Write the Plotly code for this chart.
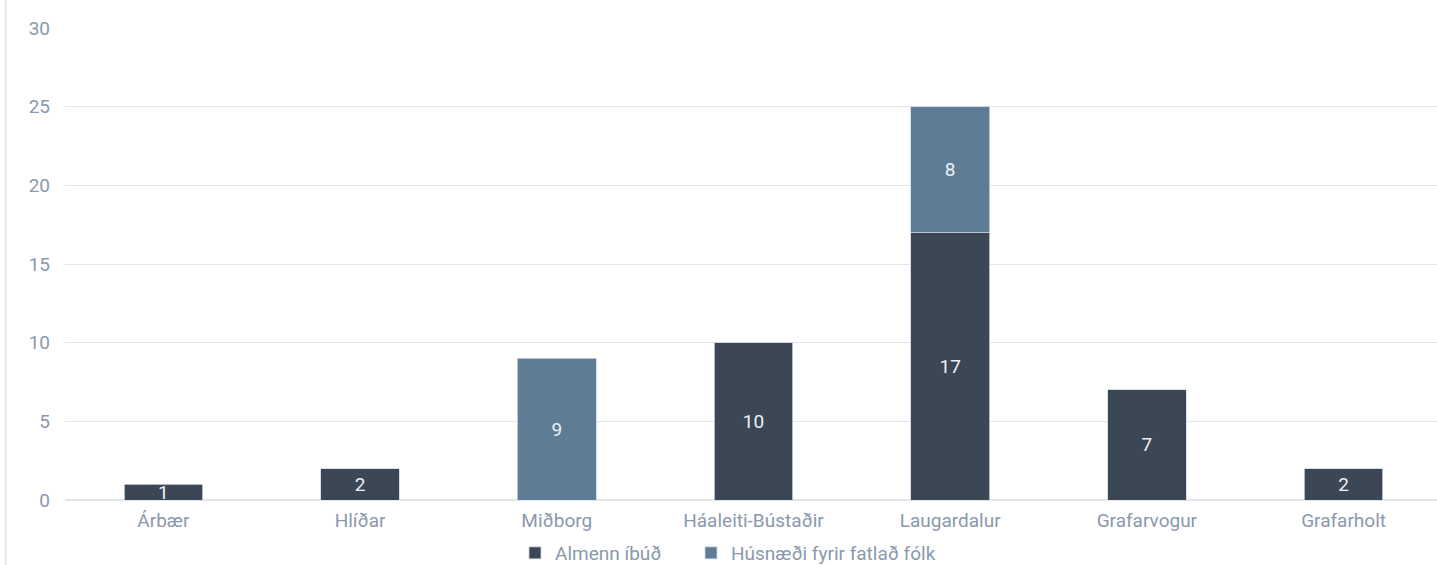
import plotly.graph_objects as go

categories = ["Árbær", "Hlíðar", "Miðborg", "Háaleiti-Bústaðir", "Laugardalur", "Grafarvogur", "Grafarholt"]
almenn = [1, 2, None, 10, 17, 7, 2]
fatlad = [None, None, 9, None, 8, None, None]
series_names = ["Almenn íbúð", "Húsnæði fyrir fatlað fólk"]
y_ticks = [0, 5, 10, 15, 20, 25, 30]

DARK = "#3c4756"
LIGHT = "#5f7c97"
TICK = "#8a99ad"
GRID = "#e2e6eb"
FONT = "Roboto"

fig = go.Figure()
for name, vals, col, lg in [(series_names[0], almenn, DARK, "legend"),
                            (series_names[1], fatlad, LIGHT, "legend2")]:
    fig.add_trace(go.Bar(
        x=categories, y=vals, name=name, legend=lg,
        marker=dict(color=col, line=dict(color="#cfd6dd", width=0.8)),
        text=[("" if v is None else str(v)) for v in vals],
        textposition="inside", insidetextanchor="middle", constraintext="none",
        textangle=0,
        textfont=dict(color="#eef1f4", size=19, family=FONT),
        cliponaxis=False, width=0.4,
    ))

PLOT_L, PLOT_W = 65, 1372
legend_common = dict(orientation="h", xanchor="left", xref="paper",
                     y=-0.1123, yanchor="middle", yref="paper",
                     bgcolor="rgba(0,0,0,0)",
                     font=dict(size=19, color=TICK, family=FONT), itemwidth=30)

fig.update_layout(
    barmode="stack",
    width=1437, height=565,
    margin=dict(l=PLOT_L, r=0, t=28, b=65, autoexpand=False),
    paper_bgcolor="white", plot_bgcolor="white",
    font=dict(family=FONT, color=TICK, size=19),
    showlegend=True,
    legend=dict(x=(515 - PLOT_L) / PLOT_W, **legend_common),
    legend2=dict(x=(691 - PLOT_L) / PLOT_W, **legend_common),
    xaxis=dict(range=[-0.5, 6.475], showgrid=False, showline=False, ticks="",
               tickfont=dict(size=19, color=TICK), automargin=False, ticklabelstandoff=7),
    yaxis=dict(range=[0, 30], tickvals=y_ticks, showgrid=True, gridcolor=GRID, gridwidth=1.2,
               zeroline=True, zerolinecolor=GRID, zerolinewidth=2, showline=False,
               tickfont=dict(size=19, color=TICK), ticklabelstandoff=14, automargin=False),
    shapes=[dict(type="line", xref="paper", yref="paper", x0=-0.0432, x1=-0.0432,
                 y0=-0.2, y1=1.1, line=dict(color="#dde2e8", width=1.5))],
)

fig.write_html("out.html", config={"displayModeBar": False},
               post_script="document.body.style.margin='0';document.body.style.overflow='hidden';")
